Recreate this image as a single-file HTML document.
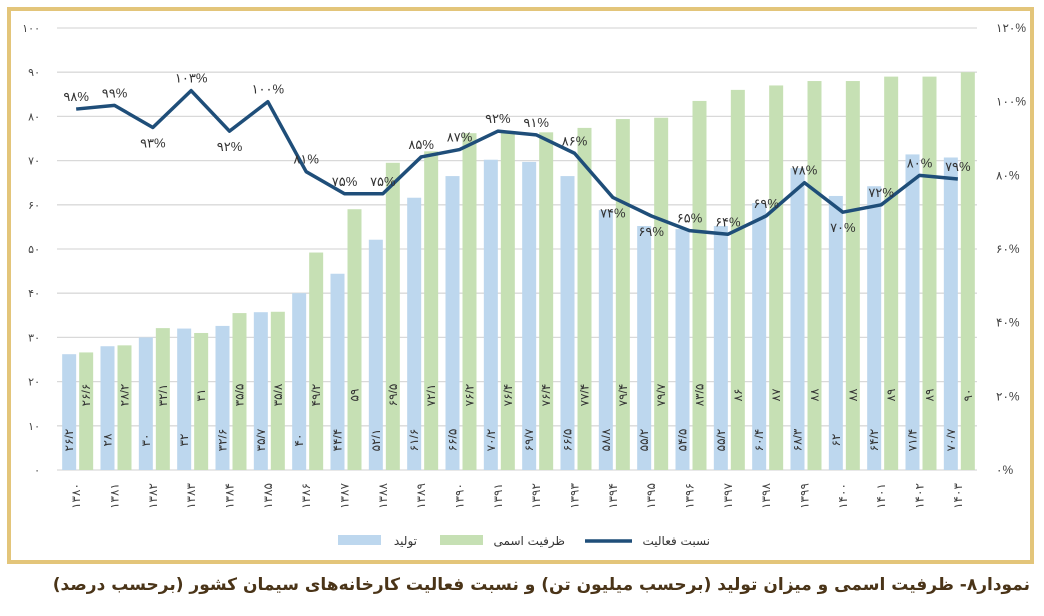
<!DOCTYPE html>
<html><head><meta charset="utf-8"><style>
html,body{margin:0;padding:0;background:#fff;width:1044px;height:616px;overflow:hidden;position:relative}
svg{display:block;position:absolute;left:0;top:0}
text{font-family:"Liberation Sans","DejaVu Sans",sans-serif}
.r{position:absolute;direction:rtl;white-space:nowrap;font-family:"DejaVu Sans",sans-serif;color:#333;font-size:12px;line-height:14px}
</style></head><body>
<svg id="s" width="1044" height="616" xmlns="http://www.w3.org/2000/svg">
<rect x="9" y="9" width="1023" height="553" fill="#fff" stroke="#e3c57a" stroke-width="4"/>
<g id="g"></g>
</svg>
<div class="r" style="right:627px;top:534px">تولید</div>
<div class="r" style="right:479px;top:534px">ظرفیت اسمی</div>
<div class="r" style="right:334px;top:534px">نسبت فعالیت</div>
<div class="r" style="right:14px;top:573px;font-size:17px;line-height:24px;font-weight:bold;color:#4a3418">نمودار۸- ظرفیت اسمی و میزان تولید (برحسب میلیون تن) و نسبت فعالیت کارخانه‌های سیمان کشور (برحسب درصد)</div>
<script>
const fa=s=>String(s).replace(/\d/g,d=>'۰۱۲۳۴۵۶۷۸۹'[d]).replace(/\./g,'/');
const P=[26.2,28,30,32,32.6,35.7,40,44.4,52.1,61.6,66.5,70.2,69.7,66.5,58.8,55.2,54.5,55.2,60.4,68.3,62,64.2,71.4,70.7];
const C=[26.6,28.2,32.1,31,35.5,35.8,49.2,59,69.5,72.1,76.2,76.4,76.4,77.4,79.4,79.7,83.5,86,87,88,88,89,89,90];
const R=[98,99,93,103,92,100,81,75,75,85,87,92,91,86,74,69,65,64,69,78,70,72,80,79];
const Y=v=>470-v*4.42, YR=v=>470-v*3.683;
let h='';
for(let i=0;i<=10;i++){const y=Y(i*10);
 h+=`<line x1="57" x2="977" y1="${y}" y2="${y}" stroke="#d9d9d9" stroke-width="1.3"/>`;
 h+=`<text x="40" y="${y+4}" text-anchor="end" font-size="11" fill="#444">${fa(i*10)}</text>`;}
for(let i=0;i<=6;i++){const y=YR(i*20);
 h+=`<text x="996" y="${y+4}" font-size="12" fill="#444">${fa(i*20)}%</text>`;}
const step=920/24;let pts=[];
for(let i=0;i<24;i++){const c=57+step*(i+0.5);
 h+=`<rect x="${c-14}" y="${Y(P[i])}" width="14" height="${P[i]*4.42}" fill="#bdd7ee"/>`;
 h+=`<rect x="${c+3}" y="${Y(C[i])}" width="14" height="${C[i]*4.42}" fill="#c6e0b4"/>`;
 h+=`<text transform="translate(${c-3},440) rotate(-90)" text-anchor="middle" font-size="12" fill="#333">${fa(P[i])}</text>`;
 h+=`<text transform="translate(${c+14},395) rotate(-90)" text-anchor="middle" font-size="12" fill="#333">${fa(C[i])}</text>`;
 h+=`<text transform="translate(${c+4},496) rotate(-90)" text-anchor="middle" font-size="12" fill="#444">${fa(1380+i)}</text>`;
 pts.push([c,YR(R[i])]);}
h+=`<polyline points="${pts.map(p=>p.join(',')).join(' ')}" fill="none" stroke="#1f4e79" stroke-width="3.5" stroke-linejoin="round"/>`;
const below=[2,4,14,15,20];
pts.forEach((p,i)=>{const dy=below.includes(i)?20:-8;
 h+=`<text x="${p[0]}" y="${p[1]+dy}" text-anchor="middle" font-size="13" fill="#333">${fa(R[i])}%</text>`;});
h+=`<rect x="338" y="535" width="43" height="10" fill="#bdd7ee"/>`;
h+=`<rect x="440" y="535" width="43" height="10" fill="#c6e0b4"/>`;
h+=`<line x1="585" x2="632" y1="541" y2="541" stroke="#1f4e79" stroke-width="3.5"/>`;
document.getElementById('g').innerHTML=h;
</script>
</body></html>
